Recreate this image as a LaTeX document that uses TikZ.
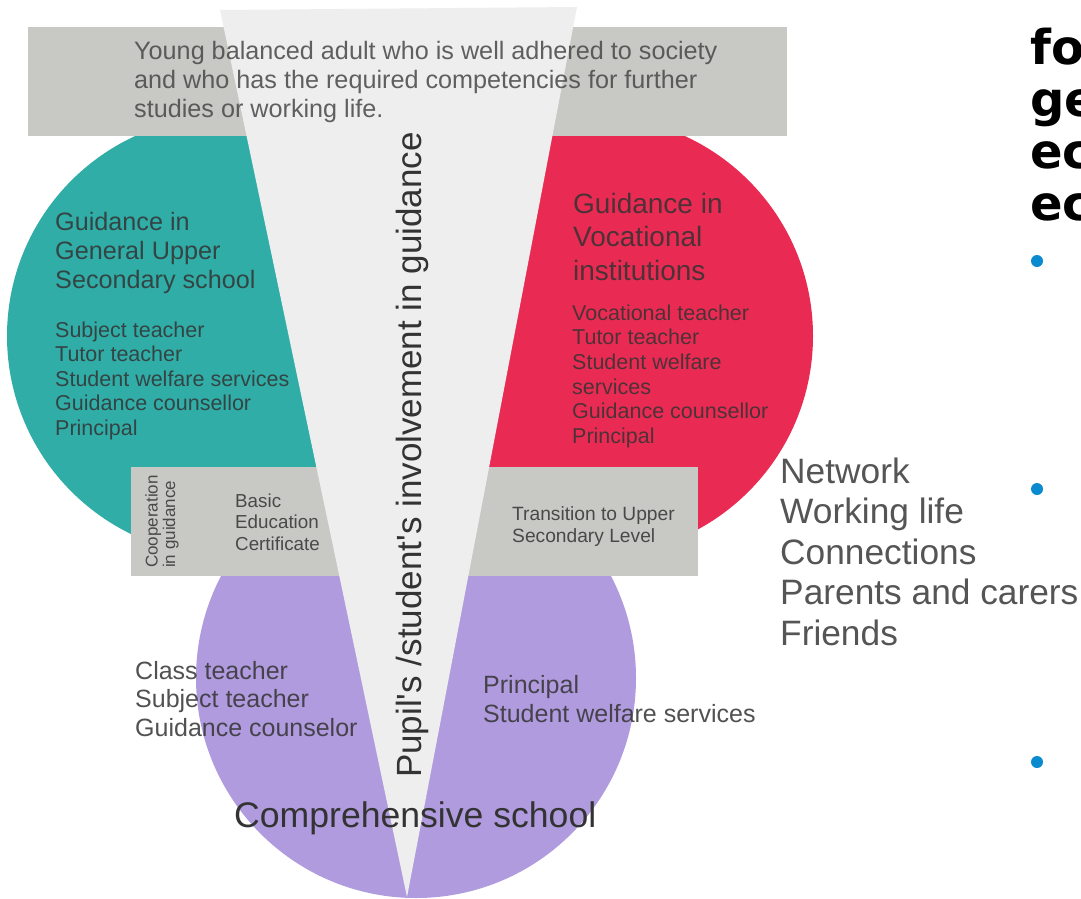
\documentclass[tikz,border=0pt]{standalone}
\usepackage{fontspec}
\setmainfont{Liberation Sans}
\newfontfamily\dvsans{DejaVu Sans}
\definecolor{tealc}{HTML}{31ADA7}
\definecolor{redc}{HTML}{E92B53}
\definecolor{purpc}{HTML}{B09BDE}
\definecolor{grayc}{HTML}{C8C8C4}
\definecolor{tric}{HTML}{EEEEEE}
\definecolor{bulc}{HTML}{0A8BD0}
\definecolor{txtc}{HTML}{333333}
\definecolor{netc}{HTML}{555555}
\begin{document}
\begin{tikzpicture}[x=1pt,y=-1pt,
  disc/.style={circle, inner sep=0pt, minimum size=440pt},
  panel/.style={rectangle, fill=grayc, inner sep=0pt, anchor=north west},
  lbl/.style={anchor=north west, inner sep=0pt, align=left, text=txtc, text opacity=0.85},
  bullet/.style={circle, fill=bulc, inner sep=0pt, minimum size=12pt}
]
\useasboundingbox (0,0) rectangle (1081,898);
\clip (0,0) rectangle (1081,898);
\fill[white] (0,0) rectangle (1081,898);

% circles
\node[disc, fill=tealc] (gen) at (227,336) {};
\node[disc, fill=redc] (voc) at (593,336) {};
\node[disc, fill=purpc] (comp) at (416,678) {};

% grey panels
\node[panel, minimum width=759pt, minimum height=109pt] (goal) at (28,27) {};
\node[panel, minimum width=567pt, minimum height=109pt] (band) at (131,467) {};

% involvement wedge
\coordinate (tl) at (220,10);
\coordinate (tr) at (577,7);
\coordinate (apex) at (407,897);
\fill[tric] (tl) -- (tr) -- (apex) -- cycle;

% texts
\node[lbl, font=\fontsize{25.2}{29}\selectfont, text=txtc!90] (goaltext) at (134,41)
  {Young balanced adult who is well adhered to society\\and who has the required competencies for further\\studies or working life.};

\node[lbl, font=\fontsize{25.2}{29}\selectfont] (genhead) at (55,212)
  {Guidance in\\General Upper\\Secondary school};
\node[lbl, font=\fontsize{21.5}{24.5}\selectfont] (genlist) at (55,321.5)
  {Subject teacher\\Tutor teacher\\Student welfare services\\Guidance counsellor\\Principal};

\node[lbl, font=\fontsize{28}{33.5}\selectfont] (vochead) at (573,193)
  {Guidance in\\Vocational\\institutions};
\node[lbl, font=\fontsize{21.5}{24.6}\selectfont] (voclist) at (572,304.5)
  {Vocational teacher\\Tutor teacher\\Student welfare\\services\\Guidance counsellor\\Principal};

\node[lbl, font=\fontsize{35.3}{40.5}\selectfont, text=netc, text opacity=1] (net) at (780,457.5)
  {Network\\Working life\\Connections\\Parents and carers\\Friends};

\node[lbl, font=\fontsize{17}{17.5}\selectfont, rotate=90] (coop) at (145,568)
  {Cooperation\\in guidance};
\node[lbl, font=\fontsize{18.8}{21.5}\selectfont] (bec) at (235,493.5)
  {Basic\\Education\\Certificate};
\node[lbl, font=\fontsize{19.2}{22.5}\selectfont] (trans) at (512,506)
  {Transition to Upper\\Secondary Level};

\node[anchor=base west, inner sep=0pt, rotate=90, font=\fontsize{35}{35}\selectfont, text=txtc] (invol) at (421,778)
  {Pupil\textquotesingle s /student\textquotesingle s involvement in guidance};

\node[lbl, font=\fontsize{25}{28.5}\selectfont] (complistl) at (135,661)
  {Class teacher\\Subject teacher\\Guidance counselor};
\node[lbl, font=\fontsize{25}{29}\selectfont] (complistr) at (483,675)
  {Principal\\Student welfare services};
\node[anchor=base west, inner sep=0pt, font=\fontsize{35.6}{35.6}\selectfont, text=txtc] (comphead) at (234,827)
  {Comprehensive school};

% cut-off slide text on the right
\node[anchor=north west, inner sep=0pt, align=left, font=\dvsans\bfseries\fontsize{48}{52}\selectfont, text=black] (slide) at (1030,27.5)
  {fo\\ge\\ec\\ec};
\node[bullet] (b1) at (1037,261) {};
\node[bullet] (b2) at (1037,489) {};
\node[bullet] (b3) at (1037,762) {};
\end{tikzpicture}
\end{document}
